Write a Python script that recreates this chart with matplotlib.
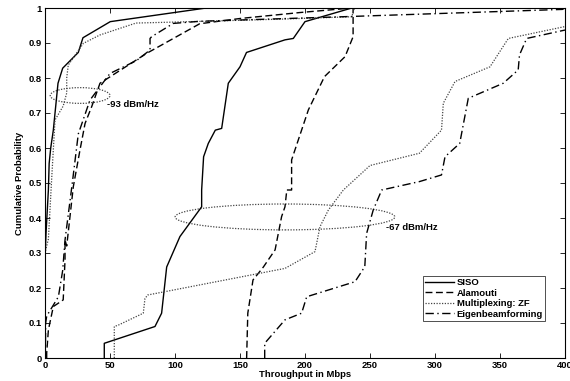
import matplotlib.pyplot as plt
from matplotlib.patches import Ellipse

# -93 dBm/Hz curves (low throughput)
siso_lo_x = [0, 0, 0.8, 2.6, 3.2, 4.4, 6.4, 10, 13.6, 25.6, 29.2, 50.2, 124]
siso_lo_y = [0, 0.28, 0.357, 0.48, 0.556, 0.6, 0.651, 0.785, 0.828, 0.873, 0.915, 0.961, 1.0]
alam_lo_x = [1.3, 1.3, 2.6, 6.4, 14, 15.4, 15.4, 16.7, 21.8, 26.9, 30.8, 35.9, 42.3, 78, 119, 150, 196, 236]
alam_lo_y = [0, 0.014, 0.08, 0.147, 0.166, 0.28, 0.337, 0.32, 0.49, 0.594, 0.67, 0.718, 0.785, 0.87, 0.955, 0.97, 0.987, 1.0]
zf_lo_x = [0, 0, 2.6, 5.1, 7.7, 14, 16.7, 16.7, 17.9, 29.5, 42.3, 70, 102, 180, 236, 238]
zf_lo_y = [0, 0.3, 0.34, 0.51, 0.68, 0.72, 0.757, 0.8, 0.837, 0.899, 0.923, 0.957, 0.96, 0.968, 0.975, 1.0]
eig_lo_x = [0.3, 0.5, 1.3, 6.4, 10.3, 13.6, 15.4, 21, 25.6, 34.6, 50, 70.5, 80.8, 80.8, 82, 98.7, 119, 237, 398, 400]
eig_lo_y = [0, 0.1, 0.12, 0.151, 0.175, 0.25, 0.337, 0.5, 0.64, 0.737, 0.813, 0.85, 0.88, 0.913, 0.918, 0.956, 0.962, 0.976, 0.996, 1.0]

# -67 dBm/Hz curves (high throughput)
siso_hi_x = [45.6, 45.6, 84.6, 89.7, 93.6, 103.8, 120.5, 120.5, 122, 125.6, 131, 135.9, 141, 150, 155, 184.6, 191, 200, 236]
siso_hi_y = [0, 0.042, 0.09, 0.128, 0.26, 0.347, 0.432, 0.48, 0.575, 0.613, 0.651, 0.656, 0.785, 0.832, 0.873, 0.909, 0.913, 0.961, 1.0]
alam_hi_x = [155.1, 156, 160, 168, 177, 182, 184.6, 186, 189.7, 189.7, 202.6, 215, 230.8, 237, 237]
alam_hi_y = [0, 0.128, 0.223, 0.26, 0.309, 0.404, 0.432, 0.48, 0.48, 0.566, 0.709, 0.804, 0.861, 0.918, 1.0]
zf_hi_x = [53.3, 53.3, 56.4, 75.6, 76.9, 79, 184.6, 207.7, 211.5, 218, 229.5, 243.6, 250, 288, 305, 306.4, 315.4, 342.3, 356.4, 400]
zf_hi_y = [0, 0.09, 0.094, 0.128, 0.17, 0.18, 0.256, 0.304, 0.375, 0.423, 0.48, 0.528, 0.55, 0.585, 0.651, 0.728, 0.79, 0.832, 0.913, 0.947]
eig_hi_x = [169, 169, 184.6, 197.4, 201.3, 238.5, 246, 247.4, 252.5, 259, 288, 305, 307.7, 319, 325.6, 352.5, 364, 365, 370.5, 400]
eig_hi_y = [0, 0.042, 0.109, 0.128, 0.175, 0.218, 0.261, 0.356, 0.423, 0.48, 0.504, 0.523, 0.575, 0.613, 0.742, 0.785, 0.823, 0.866, 0.913, 0.937]

x_ticks = [0, 50, 100, 150, 200, 250, 300, 350, 400]
y_ticks = [0, 0.1, 0.2, 0.3, 0.4, 0.5, 0.6, 0.7, 0.8, 0.9, 1.0]
y_tick_labels = ['0', '0.1', '0.2', '0.3', '0.4', '0.5', '0.6', '0.7', '0.8', '0.9', '1']

plt.rcParams['font.family'] = ['Liberation Sans', 'DejaVu Sans']
plt.rcParams['font.weight'] = 'bold'

fig = plt.figure(figsize=(5.7, 3.81), dpi=100)
ax = fig.add_axes([45 / 570, 23 / 381, 520 / 570, 350 / 381])

solid = dict(color='k', linestyle='-', linewidth=1.0)
dashed = dict(color='k', linestyle=(0, (5, 2.5)), linewidth=1.0)
dotted = dict(color='#444444', linestyle=(0, (1, 1.2)), linewidth=0.9)
dashdot = dict(color='k', linestyle=(0, (6, 2.5, 1, 2.5)), linewidth=1.0)

ax.plot(siso_hi_x, siso_hi_y, label='SISO', **solid)
ax.plot(alam_hi_x, alam_hi_y, label='Alamouti', **dashed)
ax.plot(zf_hi_x, zf_hi_y, label='Multiplexing: ZF', **dotted)
ax.plot(eig_hi_x, eig_hi_y, label='Eigenbeamforming', **dashdot)

ax.plot(siso_lo_x, siso_lo_y, **solid)
ax.plot(alam_lo_x, alam_lo_y, **dashed)
ax.plot(zf_lo_x, zf_lo_y, **dotted)
ax.plot(eig_lo_x, eig_lo_y, **dashdot)

# SNR markers
ax.add_patch(Ellipse((27, 0.75), 46, 0.045, fill=False, edgecolor='#444444',
                     linestyle=(0, (1, 1.2)), linewidth=0.9))
ax.add_patch(Ellipse((184.6, 0.403), 169, 0.074, fill=False, edgecolor='#444444',
                     linestyle=(0, (1, 1.2)), linewidth=0.9))
ax.text(47.5, 0.723, '-93 dBm/Hz', fontsize=6.8, fontweight='bold', va='center')
ax.text(262.5, 0.373, '-67 dBm/Hz', fontsize=6.8, fontweight='bold', va='center')

ax.set_xlim(0, 400)
ax.set_ylim(0, 1)
ax.set_xticks(x_ticks)
ax.set_yticks(y_ticks)
ax.set_yticklabels(y_tick_labels)
ax.tick_params(direction='in', top=True, right=True, labelsize=6.8, length=3.5, width=0.6, pad=2.5)
for s in ax.spines.values():
    s.set_linewidth(0.8)

ax.set_xlabel('Throughput in Mbps', fontsize=6.8, fontweight='bold', labelpad=0)
ax.set_ylabel('Cumulative Probability', fontsize=6.8, fontweight='bold', labelpad=3)

leg = ax.legend(loc='lower right', bbox_to_anchor=(0.962, 0.106), fontsize=6.8,
                frameon=True, fancybox=False, edgecolor='k', handlelength=3.0,
                borderpad=0.25, labelspacing=0.15, handletextpad=0.3, borderaxespad=0)
leg.get_frame().set_linewidth(0.6)

fig.savefig('out.png', dpi=100)
